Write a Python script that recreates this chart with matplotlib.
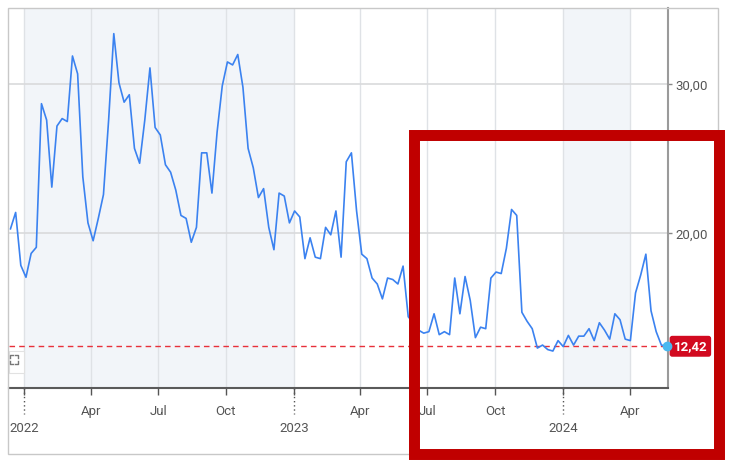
import pandas as pd
import matplotlib.pyplot as plt
from matplotlib.patches import Rectangle, FancyBboxPatch

plt.rcParams['font.family'] = ['Roboto', 'DejaVu Sans']

# weekly values (last one is the 12.42 close)
values = [20.3, 21.4, 17.85, 17.05, 18.65, 19.06, 28.7, 27.6, 23.1, 27.2,
          27.7, 27.5, 31.9, 30.7, 23.8, 20.7, 19.5, 21.0, 22.6, 27.6,
          33.4, 30.1, 28.8, 29.3, 25.7, 24.7, 27.6, 31.1, 27.1, 26.6,
          24.6, 24.1, 22.9, 21.2, 21.0, 19.4, 20.4, 25.4, 25.4, 22.7,
          26.8, 29.9, 31.5, 31.3, 32.0, 29.8, 25.7, 24.4, 22.4, 23.0,
          20.4, 18.9, 22.7, 22.5, 20.7, 21.5, 21.1, 18.3, 19.7, 18.4,
          18.3, 20.4, 19.9, 21.5, 18.4, 24.8, 25.4, 21.5, 18.6, 18.3,
          17.0, 16.6, 15.6, 17.0, 16.9, 16.6, 17.8, 14.4, 14.0, 13.5,
          13.3, 13.4, 14.6, 13.2, 13.4, 13.2, 17.0, 14.6, 17.1, 15.5,
          13.0, 13.7, 13.6, 17.0, 17.4, 17.3, 19.0, 21.6, 21.2, 14.7,
          14.1, 13.6, 12.3, 12.5, 12.2, 12.1, 12.8, 12.4, 13.15, 12.5,
          13.1, 13.1, 13.6, 12.8, 14.0, 13.5, 12.9, 14.6, 14.2, 12.9,
          12.8, 16.0, 17.2, 18.6, 14.8, 13.4, 12.5, 12.42]
dates = pd.date_range(end='2024-05-20', periods=len(values), freq='7D')
last_value = 12.42

quarters = pd.date_range('2022-01-01', '2024-04-01', freq='QS')
quarter_labels = ['', 'Apr', 'Jul', 'Oct', '', 'Apr', 'Jul', 'Oct', '', 'Apr']
years = ['2022', '2023', '2024']
year_ticks = pd.to_datetime(['2022-01-01', '2023-01-01', '2024-01-01'])
y_ticks = [20, 30]
y_labels = ['20,00', '30,00']

W, H = 729, 466
fig = plt.figure(figsize=(W / 100, H / 100), dpi=100)
ax = fig.add_axes([9 / W, 78 / H, 659 / W, 380 / H])

# shaded periods
ax.axvspan(pd.Timestamp('2022-01-01'), pd.Timestamp('2023-01-01'), color='#f2f5f9', lw=0, zorder=0)
ax.axvspan(pd.Timestamp('2024-01-01'), pd.Timestamp('2024-04-01'), color='#f2f5f9', lw=0, zorder=0)

for q in quarters:
    ax.axvline(q, color='#dfe2e6', lw=1, zorder=1)
for y in y_ticks:
    ax.axhline(y, color='#d9dadc', lw=1.2, zorder=1)

ax.plot(dates, values, color='#3b82f0', lw=1.2, zorder=3)
ax.axhline(last_value, color='#e8303a', lw=1, dashes=(4, 3), zorder=2)

ax.set_xlim(pd.Timestamp('2021-12-11'), pd.Timestamp('2024-05-22'))
ax.set_ylim(9.62, 35.12)

ax.spines['top'].set_visible(False)
ax.spines['left'].set_visible(False)
ax.spines['bottom'].set_color('#5a5a5a')
ax.spines['bottom'].set_linewidth(1.5)
ax.spines['right'].set_color('#9a9a9a')
ax.spines['right'].set_linewidth(1.5)

ax.set_xticks(quarters)
ax.set_xticklabels(quarter_labels)
ax.tick_params(axis='x', length=5, width=1, color='#555555', labelcolor='#555555',
               labelsize=9.5, pad=7)
ax.yaxis.tick_right()
ax.set_yticks(y_ticks)
ax.set_yticklabels(y_labels)
ax.tick_params(axis='y', length=3, width=1, color='#888888', labelcolor='#555555',
               labelsize=9.5, pad=2)

# year markers below the axis
for d, label in zip(year_ticks, years):
    ax.plot([d, d], [0, -26 / 380], transform=ax.get_xaxis_transform(), color='#555555',
            lw=1, ls=(0, (1, 2)), clip_on=False)
    ax.text(d, -41 / 380, label, transform=ax.get_xaxis_transform(), ha='center',
            va='center', fontsize=9.5, color='#555555')

# last value badge
ax.annotate('12,42', xy=(1.0, last_value), xycoords=ax.get_yaxis_transform(),
            xytext=(4, 0), textcoords='offset points', ha='left', va='center',
            fontsize=9.5, color='white', fontweight='bold', annotation_clip=False,
            bbox=dict(boxstyle='round,pad=0.3,rounding_size=0.2', fc='#d20a20', ec='none'),
            zorder=4)
ax.plot(dates[-1], values[-1], 'o', color='#4ab8f0', ms=6, zorder=6, clip_on=False)

# expand icon box
icon = FancyBboxPatch((9 / W, 93 / H), 15 / W, 22 / H, boxstyle='square,pad=0',
                      transform=fig.transFigure, fc='white', ec='#e2e2e2', lw=0.8)
fig.patches.append(icon)
for cx, cy, sx, sy in [(10, 355, 1, 1), (18, 355, -1, 1), (10, 364, 1, -1), (18, 364, -1, -1)]:
    fig.add_artist(plt.Line2D([(cx + 3 * sx) / W, cx / W, cx / W],
                              [(H - cy) / H, (H - cy) / H, (H - cy - 3 * sy) / H],
                              transform=fig.transFigure, color='#777777', lw=1))

# outer chart frame
fig.patches.append(Rectangle((8 / W, 12 / H), 710 / W, 446 / H, transform=fig.transFigure,
                             fill=False, ec='#c8c8c8', lw=1))
# red highlight box
fig.patches.append(Rectangle((413.5 / W, 12 / H), 305 / W, 319.5 / H, transform=fig.transFigure,
                             fill=False, ec='#c00000', lw=7.9, joinstyle='miter', zorder=10))

fig.savefig('out.png', dpi=100)
